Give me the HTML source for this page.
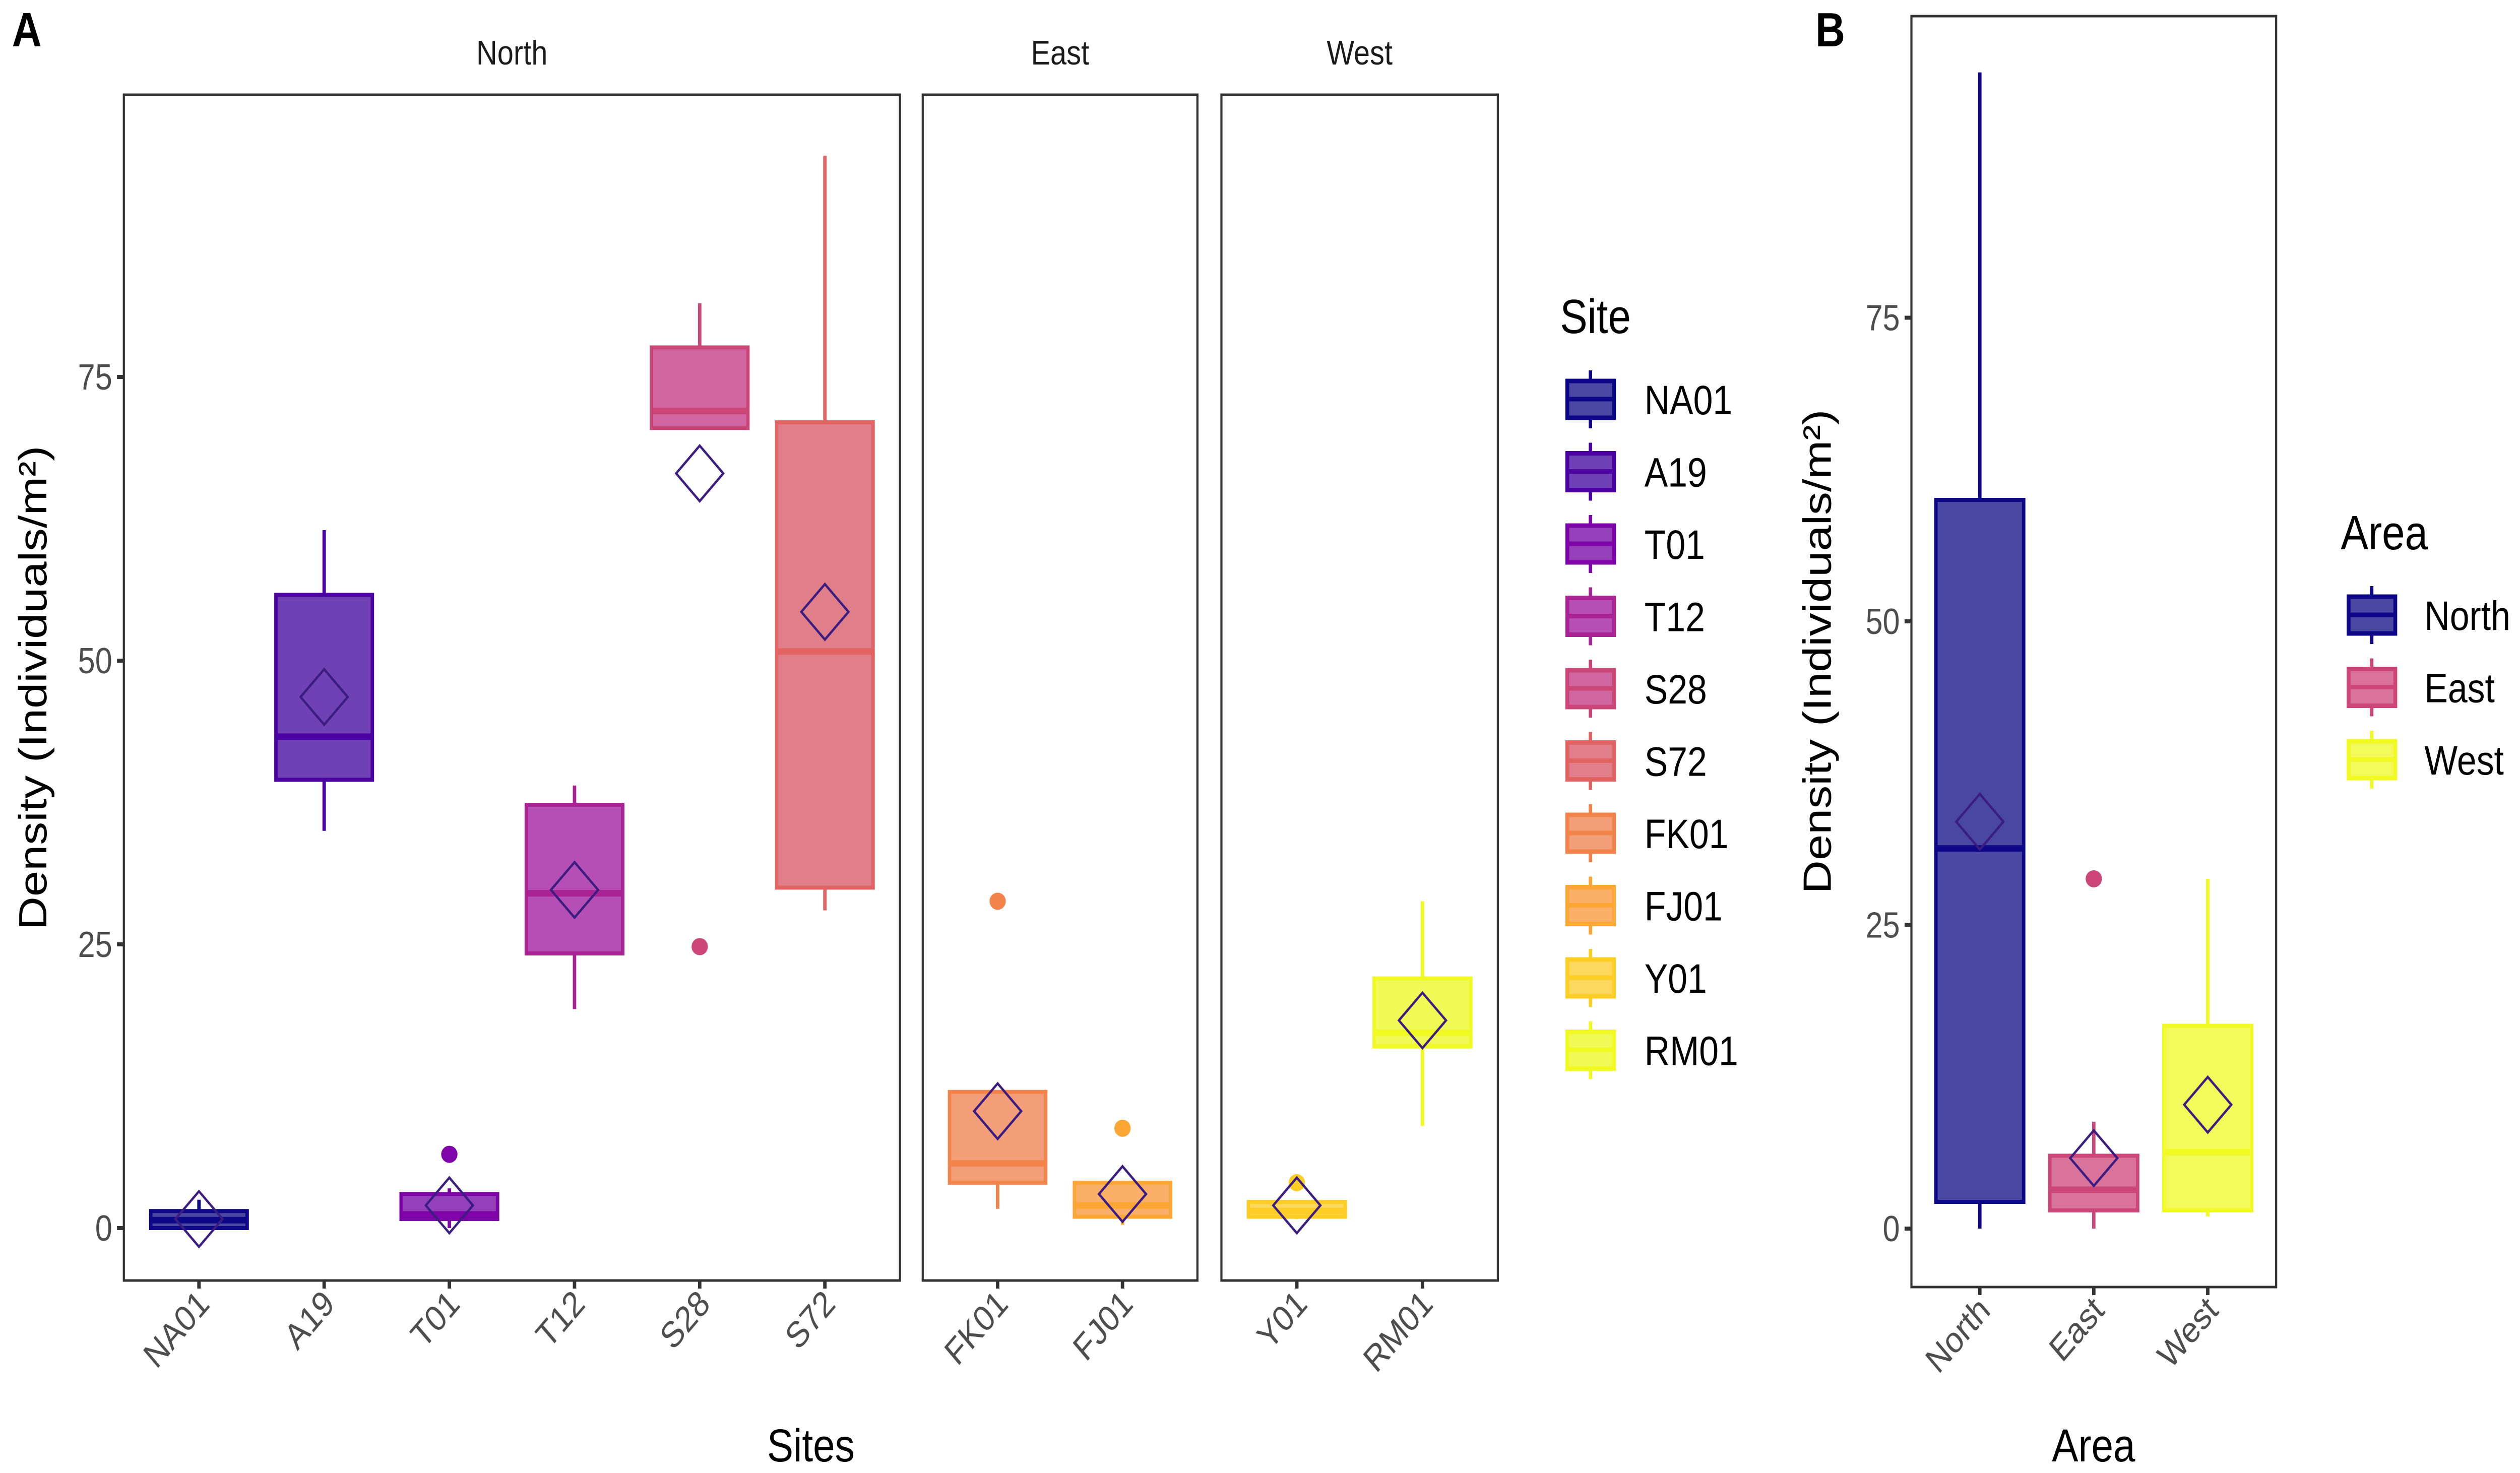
<!DOCTYPE html>
<html><head><meta charset="utf-8"><style>
html,body{margin:0;padding:0;background:#fff;overflow:hidden;width:100%;height:100%}
svg{display:block;font-family:"Liberation Sans",sans-serif;width:100vw;height:100vh}
</style></head><body>
<svg id="c" viewBox="0 0 5880 2923" preserveAspectRatio="none" xmlns="http://www.w3.org/2000/svg"></svg>
<script>
// ---- Panel A data ----
const sites=["NA01","A19","T01","T12","S28","S72","FK01","FJ01","Y01","RM01"];
const siteArea=["North","North","North","North","North","North","East","East","West","West"];
const siteLo=[0,35,0,19.3,70.5,28,1.7,0.3,0.8,9];
const siteQ1=[0,39.5,0.8,24.2,70.5,30,4,1,1,16];
const siteMed=[0.7,43.3,1.2,29.5,72,50.8,5.7,2,1.5,17.2];
const siteQ3=[1.5,55.8,3,37.3,77.6,71,12,4,2.3,22];
const siteHi=[2.5,61.5,3.5,39,81.5,94.5,12,4,2.3,28.8];
const siteMean=[0.8,46.8,2,29.8,66.5,54.3,10.3,3,2,18.3];
const siteOut=[[],[],[6.5],[],[24.8],[],[28.8],[8.8],[4],[]];
const siteColor=["#0d0887","#4c02a1","#7e03a8","#a92395","#cc4778","#e16462","#f2844b","#fca636","#fcce25","#f0f921"];
const siteFill=["#4a47a3","#7040b5","#9440b8","#b54fb5","#cf66a2","#e07f8a","#f29e79","#fbb06a","#fcd85e","#f1f957"];
// ---- Panel B data ----
const areas=["North","East","West"];
const areaLo=[0,0,1];
const areaQ1=[2.2,1.5,1.5];
const areaMed=[31.3,3.2,6.3];
const areaQ3=[60,6,16.7];
const areaHi=[95.2,8.8,28.8];
const areaMean=[33.5,5.8,10.2];
const areaOut=[[],[28.8],[]];
const areaColor=["#0d0887","#cc4778","#f0f921"];
const areaFill=["#4a47a3","#d9739a","#f3f95a"];
const yTicks=[0,25,50,75];

const NS="http://www.w3.org/2000/svg";
const svg=document.getElementById('c');
function mk(tag,attrs,parent){const e=document.createElementNS(NS,tag);for(const k in attrs)e.setAttribute(k,attrs[k]);(parent||svg).appendChild(e);return e;}
function txt(s,attrs,parent){const e=mk('text',attrs,parent);e.textContent=s;return e;}

const yA=v=>2437-v*22.52;
const yB=v=>2438-v*24.1;
const facets={North:{x0:289,x1:2100,cats:[0,1,2,3,4,5]},East:{x0:2153,x1:2794,cats:[6,7]},West:{x0:2850,x1:3495,cats:[8,9]}};
const PT=188,PB=2541;

function drawBox(g,cx,w,lo,q1,med,q3,hi,mean,outs,col,fill,yf){
  let e;
  e=mk('line',{x1:cx,x2:cx,y1:yf(q3),y2:yf(hi),stroke:col,'stroke-width':8},g);
  
  e=mk('line',{x1:cx,x2:cx,y1:yf(q1),y2:yf(lo),stroke:col,'stroke-width':8},g);
  
  e=mk('rect',{x:cx-w/2,y:yf(q3),width:w,height:Math.max(1,yf(q1)-yf(q3)),fill:fill,stroke:col,'stroke-width':8},g);
  
  e=mk('line',{x1:cx-w/2,x2:cx+w/2,y1:yf(med),y2:yf(med),stroke:col,'stroke-width':13},g);
  
  outs.forEach(o=>{e=mk('ellipse',{cx:cx,cy:yf(o),rx:19,ry:17,fill:col},g);
    });
  const my=yf(mean),d=55;
  e=mk('polygon',{points:`${cx-d},${my} ${cx},${my-d} ${cx+d},${my} ${cx},${my+d}`,fill:'none',stroke:'#3b1c80','stroke-width':5},g);
  
}

// Panel A
let t=txt('A',{x:28,y:92,'font-size':96,'font-weight':'bold'});

for(const f in facets){
  const F=facets[f];
  const g=mk('g',{});
  t=txt(f,{x:(F.x0+F.x1)/2,y:128,'font-size':68,'text-anchor':'middle',fill:'#1a1a1a'},g);
  
  const n=F.cats.length,step=(F.x1-F.x0)/(n+0.2);
  F.cats.forEach((ci,k)=>{
    const cx=F.x0+step*(k+0.6);
    const bg=mk('g',{},g);
    drawBox(bg,cx,step*0.77,siteLo[ci],siteQ1[ci],siteMed[ci],siteQ3[ci],siteHi[ci],siteMean[ci],siteOut[ci],siteColor[ci],siteFill[ci],yA);
    let e=mk('line',{x1:cx,x2:cx,y1:PB,y2:PB+16,stroke:'#333','stroke-width':8},g);
    
    e=txt(sites[ci],{x:0,y:0,'font-size':72,fill:'#4d4d4d','text-anchor':'end',transform:`translate(${cx+28},${PB+50}) rotate(-45)`},g);
    
  });
  let fr=mk('rect',{x:F.x0,y:PT,width:F.x1-F.x0,height:PB-PT,fill:'none',stroke:'#333','stroke-width':5},g);
  
}
yTicks.forEach(v=>{
  let e=mk('line',{x1:273,x2:289,y1:yA(v),y2:yA(v),stroke:'#333','stroke-width':8});
  
  e=txt(String(v),{x:262,y:yA(v)+25,'font-size':72,fill:'#4d4d4d','text-anchor':'end'});
  
});
t=txt('Density (Individuals/m²)',{x:0,y:0,'font-size':92,'text-anchor':'middle',transform:'translate(108,1365) rotate(-90)'});

t=txt('Sites',{x:1892,y:2900,'font-size':92,'text-anchor':'middle'});


// Legend helper
function legendKey(g,x,y,col,fill){
  let e=mk('line',{x1:x+58,x2:x+58,y1:y-17,y2:y+98,stroke:col,'stroke-width':8},g);
  
  e=mk('rect',{x:x+4,y:y+4,width:109,height:73,fill:fill,stroke:col,'stroke-width':9},g);
  
  e=mk('line',{x1:x,x2:x+117,y1:y+40,y2:y+40,stroke:col,'stroke-width':9},g);
  
}
const lg=mk('g',{});
t=txt('Site',{x:3640,y:661,'font-size':96},lg);

sites.forEach((s,i)=>{
  const y=752+i*143.5;
  const eg=mk('g',{},lg);
  legendKey(eg,3653,y,siteColor[i],siteFill[i]);
  const e=txt(s,{x:3837,y:y+70,'font-size':82},eg);
  
});

// Panel B
t=txt('B',{x:4236,y:92,'font-size':96,'font-weight':'bold'});

const BX0=4460,BX1=5311,BT=32,BB=2554;
const bg=mk('g',{});
const bstep=(BX1-BX0)/3.2;
areas.forEach((a,i)=>{
  const cx=BX0+bstep*(i+0.6);
  const g=mk('g',{},bg);
  drawBox(g,cx,bstep*0.77,areaLo[i],areaQ1[i],areaMed[i],areaQ3[i],areaHi[i],areaMean[i],areaOut[i],areaColor[i],areaFill[i],yB);
  let e=mk('line',{x1:cx,x2:cx,y1:BB,y2:BB+16,stroke:'#333','stroke-width':8},bg);
  
  e=txt(a,{x:0,y:0,'font-size':72,fill:'#4d4d4d','text-anchor':'end',transform:`translate(${cx+28},${BB+50}) rotate(-45)`},bg);
  
});
let fb=mk('rect',{x:BX0,y:BT,width:BX1-BX0,height:BB-BT,fill:'none',stroke:'#333','stroke-width':5},bg);

yTicks.forEach(v=>{
  let e=mk('line',{x1:BX0-16,x2:BX0,y1:yB(v),y2:yB(v),stroke:'#333','stroke-width':8});
  
  e=txt(String(v),{x:BX0-27,y:yB(v)+25,'font-size':72,fill:'#4d4d4d','text-anchor':'end'});
  
});
t=txt('Density (Individuals/m²)',{x:0,y:0,'font-size':92,'text-anchor':'middle',transform:`translate(4272,${(BT+BB)/2}) rotate(-90)`});

t=txt('Area',{x:4885,y:2900,'font-size':92,'text-anchor':'middle'});

const lgb=mk('g',{});
t=txt('Area',{x:5462,y:1090,'font-size':96},lgb);

areas.forEach((a,i)=>{
  const y=1180+i*143.5;
  const eg=mk('g',{},lgb);
  legendKey(eg,5476,y,areaColor[i],areaFill[i]);
  const e=txt(a,{x:5657,y:y+70,'font-size':82},eg);
  
});
</script>
</body></html>
